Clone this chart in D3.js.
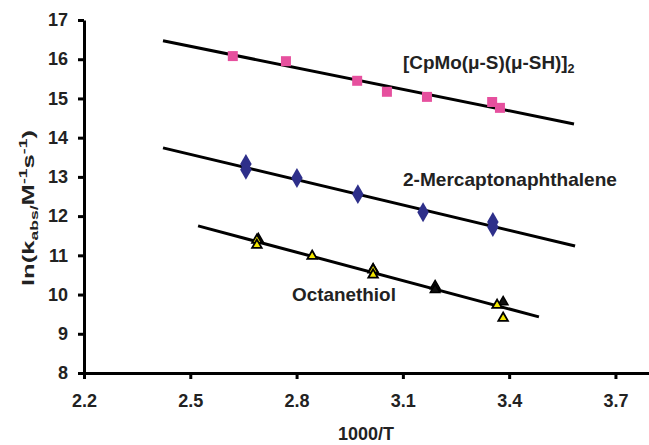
<!DOCTYPE html>
<html>
<head>
<meta charset="utf-8">
<script src="https://cdn.jsdelivr.net/npm/d3@7"></script>
<style>
  body { margin: 0; background: #fff; }
  svg { display: block; font-family: "Liberation Sans", Arial, sans-serif; font-weight: bold; }
  .tick text { font-size: 18px; font-weight: bold; fill: #222; }
</style>
</head>
<body>
<div id="chart"></div>
<script>
// --------------------------------------
//  Data
// --------------------------------------

// [CpMo(u-S)(u-SH)]2
const moX = [2.62, 2.77, 2.971, 3.055, 3.168, 3.352, 3.374];
const moY = [16.08, 15.95, 15.45, 15.17, 15.04, 14.91, 14.76];

// 2-Mercaptonaphthalene
const naphX = [2.657, 2.657, 2.801, 2.973, 3.157, 3.354, 3.354];
const naphY = [13.33, 13.18, 12.97, 12.56, 12.10, 11.85, 11.72];

// Octanethiol (yellow and black triangles)
const octX = [2.688, 2.688, 2.844, 3.016, 3.016, 3.366, 3.383];
const octY = [11.39, 11.26, 10.98, 10.63, 10.50, 9.73, 9.40];
const octBlackX = [2.692, 3.016, 3.191, 3.191, 3.383];
const octBlackY = [11.42, 10.65, 10.22, 10.12, 9.81];

// fitted lines: [x0, y0, x1, y1]
const fitMo = [2.423, 16.47, 3.583, 14.35];
const fitNaph = [2.423, 13.74, 3.586, 11.24];
const fitOct = [2.522, 11.75, 3.484, 9.43];

const xTicks = [2.2, 2.5, 2.8, 3.1, 3.4, 3.7];
const yTicks = [8, 9, 10, 11, 12, 13, 14, 15, 16, 17];

// --------------------------------------
//  Canvas
// --------------------------------------

const width = 649;
const height = 445;
const margin = {top: 20, right: 0, bottom: 72, left: 84};
const innerwidth = width - margin.left - margin.right;
const innerheight = height - margin.top - margin.bottom;

const svg = d3.select("#chart")
  .append("svg")
    .attr("width", width)
    .attr("height", height);

const inner = svg.append("g")
    .attr("transform", `translate(${margin.left}, ${margin.top})`);

// --------------------------------------
//  Scales
// --------------------------------------

const x = d3.scaleLinear()
    .domain([2.2, 2.2 + innerwidth / 354.3])
    .range([0, innerwidth]);

const y = d3.scaleLinear()
    .domain([8, 17])
    .range([innerheight, 0]);

// --------------------------------------
//  Axes
// --------------------------------------

const xAxis = inner.append("g")
    .attr("transform", `translate(0, ${innerheight})`)
    .call(d3.axisBottom(x)
      .tickValues(xTicks)
      .tickFormat(d3.format(".1f"))
      .tickSize(6)
      .tickSizeOuter(0)
      .tickPadding(15));

const yAxis = inner.append("g")
    .call(d3.axisLeft(y)
      .tickValues(yTicks)
      .tickSize(6)
      .tickSizeOuter(0)
      .tickPadding(10));

[xAxis, yAxis].forEach(a => {
  a.select(".domain").attr("stroke", "#000").attr("stroke-width", 3);
  a.selectAll(".tick line").attr("stroke", "#000").attr("stroke-width", 3);
});

// --------------------------------------
//  Fit lines
// --------------------------------------

[fitMo, fitNaph, fitOct].forEach(f => {
  inner.append("line")
    .attr("x1", x(f[0]))
    .attr("y1", y(f[1]))
    .attr("x2", x(f[2]))
    .attr("y2", y(f[3]))
    .attr("stroke", "#000")
    .attr("stroke-width", 3);
});

// --------------------------------------
//  Points
// --------------------------------------

const sq = d3.symbol().type(d3.symbolSquare).size(100);
const dia = d3.symbol().type(d3.symbolDiamond).size(95);
const tri = d3.symbol().type(d3.symbolTriangle).size(40);

inner.append("g")
  .selectAll("path")
  .data(d3.zip(moX, moY))
  .join("path")
    .attr("d", sq)
    .attr("transform", d => `translate(${x(d[0])}, ${y(d[1])})`)
    .attr("fill", "#e6509e");

inner.append("g")
  .selectAll("path")
  .data(d3.zip(naphX, naphY))
  .join("path")
    .attr("d", dia)
    .attr("transform", d => `translate(${x(d[0])}, ${y(d[1])}) scale(1.1, 1.1)`)
    .attr("fill", "#2e2f8a");

inner.append("g")
  .selectAll("path")
  .data(d3.zip(octBlackX, octBlackY))
  .join("path")
    .attr("d", tri)
    .attr("transform", d => `translate(${x(d[0])}, ${y(d[1])})`)
    .attr("fill", "#111")
    .attr("stroke", "#000")
    .attr("stroke-width", 1.5);

inner.append("g")
  .selectAll("path")
  .data(d3.zip(octX, octY))
  .join("path")
    .attr("d", tri)
    .attr("transform", d => `translate(${x(d[0])}, ${y(d[1])})`)
    .attr("fill", "#f2e600")
    .attr("stroke", "#000")
    .attr("stroke-width", 1.8);

// --------------------------------------
//  Labels
// --------------------------------------

// stretch a text group horizontally (in its own frame) to a target width
function fitWidth(g, target) {
  const w = g.node().getBBox().width;
  g.select("text").attr("transform", `scale(${target / w}, 1)`);
}

const moG = svg.append("g").attr("transform", "translate(403, 69)");
const moLabel = moG.append("text")
    .attr("font-size", 18)
    .attr("fill", "#222");
moLabel.append("tspan").text("[CpMo(μ-S)(μ-SH)]");
moLabel.append("tspan").attr("font-size", 12).attr("dy", 4).text("2");
fitWidth(moG, 172);

const naphG = svg.append("g").attr("transform", "translate(403, 186)");
naphG.append("text")
    .attr("font-size", 18)
    .attr("fill", "#222")
    .text("2-Mercaptonaphthalene");
fitWidth(naphG, 214);

const octG = svg.append("g").attr("transform", "translate(292, 301)");
octG.append("text")
    .attr("font-size", 18)
    .attr("fill", "#222")
    .text("Octanethiol");
fitWidth(octG, 104);

svg.append("text")
    .attr("x", 366)
    .attr("y", 440)
    .attr("text-anchor", "middle")
    .attr("font-size", 18)
    .attr("fill", "#222")
    .text("1000/T");

const yG = svg.append("g").attr("transform", "translate(34, 208) rotate(-90)");
const yTitle = yG.append("text")
    .attr("text-anchor", "middle")
    .attr("font-size", 16)
    .attr("fill", "#222");
yTitle.append("tspan").text("ln(k");
yTitle.append("tspan").attr("font-size", 11).attr("dy", 4).text("abs/");
yTitle.append("tspan").attr("dy", -4).text("M");
yTitle.append("tspan").attr("font-size", 11).attr("dy", -7).text("-1");
yTitle.append("tspan").attr("dy", 7).text("s");
yTitle.append("tspan").attr("font-size", 11).attr("dy", -7).text("-1");
yTitle.append("tspan").attr("dy", 7).text(")");
fitWidth(yG, 156);
</script>
</body>
</html>
